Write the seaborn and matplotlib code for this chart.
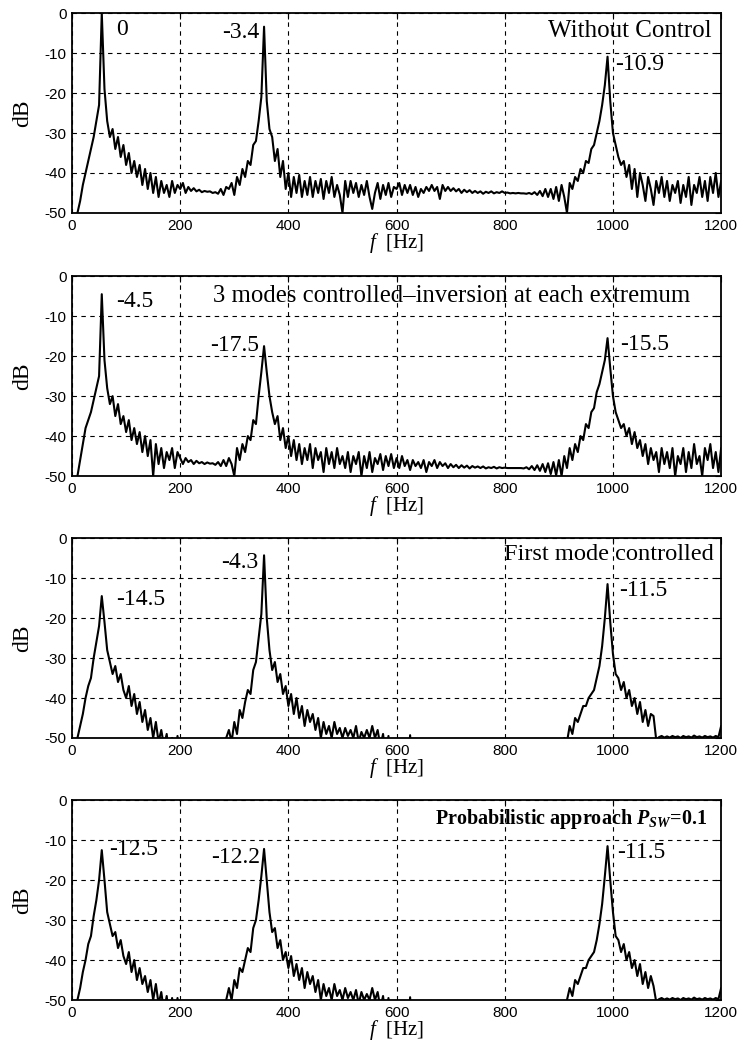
import numpy as np
import matplotlib
matplotlib.use("Agg")
import matplotlib.pyplot as plt
import seaborn as sns

# frequency grid of the spectra (Hz)
freq = np.arange(0, 1205, 5)

# spectra in dB, 5 Hz steps
db_no_control = [
    -60, -56, -50, -47, -43, -40, -37, -34, -31, -27, -23, 0, -19, -27, -31, -29, -34, -31, -36, -33,
    -38, -35, -40, -37, -41, -38, -43, -39, -44, -40, -45, -41, -46, -42, -45, -43, -46, -42, -45, -43,
    -44, -42.5, -45, -43.5, -44.5, -43.8, -44.6, -44.2, -44.8, -44.5, -44.7, -44.6, -45, -44.8, -45.2, -44, -45.5, -43.5, -44, -42.5,
    -45.5, -41, -43, -39, -41, -37, -38, -33, -32, -27, -21, -3.4, -22, -29, -31, -37, -34, -41, -37, -44,
    -40, -46, -41, -45, -40.5, -46, -42, -45.5, -41, -46, -42, -45, -41.5, -46.5, -42, -45, -41, -46, -43, -45.5,
    -50, -42, -46, -42, -45, -42.5, -46, -43, -45.5, -42, -46, -49, -45, -42.5, -46.5, -43, -45.5, -42.5, -46, -43.5,
    -44, -42.5, -45.5, -43, -45, -43, -45.5, -43.5, -46, -44, -45, -43.5, -44.5, -43, -44.5, -43.5, -46.5, -43, -44.5, -43.5,
    -44.5, -43.8, -44.6, -44, -45, -44.2, -44.8, -44.3, -45, -44.5, -45, -44.6, -45.2, -44.7, -45, -44.6, -45.1, -44.8, -45, -44.6,
    -45, -44.9, -45.1, -45, -45.1, -45, -45.1, -45.1, -45.2, -45, -45.3, -44.8, -45.5, -44.5, -45.8, -44, -46, -44, -46.5, -43.5,
    -47, -43, -46, -50, -42.5, -44, -41, -42, -39, -40, -37, -37.5, -34, -33, -30, -27, -23, -18, -10.9, -22,
    -30, -33, -36, -38, -37, -41, -38, -44, -39, -46, -40, -43, -47, -41, -44, -48, -42, -45, -41, -46,
    -42, -47, -43, -45, -42, -47.5, -43, -46, -41, -48, -43, -45, -41, -46, -42, -47, -41, -45, -40, -46, -42,
]

db_three_modes = [
    -60, -56, -50, -46, -42, -38, -36, -34, -31, -28, -25, -4.5, -21, -28, -32, -30, -35, -32, -37, -35,
    -39, -36, -41, -38, -42, -39, -44, -40, -45, -41, -50, -42, -47, -43, -48, -44, -46, -43, -48, -44,
    -45.5, -47, -45.5, -46.5, -46, -47, -46.2, -46.8, -46.5, -47, -46.6, -46.9, -46.8, -47.2, -46.5, -47.5, -46, -47.5, -45.5, -47,
    -50, -43, -46, -42, -44, -40, -41, -36, -37, -30, -24, -17.5, -24, -30, -34, -37, -35, -41, -38, -43,
    -40, -45, -41, -46, -42, -47, -43, -46, -42, -48, -43, -46, -44, -49, -43, -47, -44, -48, -43, -47,
    -45, -48, -44, -49, -45, -47, -44, -50, -45, -48, -44, -49, -45.5, -47, -44.5, -48.5, -45, -47.5, -44.5, -48,
    -45.5, -48, -45, -47.5, -46, -48.5, -46, -47.5, -46.5, -48, -46, -49, -46.5, -47.5, -46, -48, -46.5, -47.5, -46.8, -48,
    -47, -47.8, -47.2, -48, -47.3, -47.9, -47.4, -48.1, -47.5, -47.9, -47.6, -48, -47.6, -48.1, -47.8, -48, -47.7, -48.1, -47.8, -48,
    -47.9, -48, -48, -48, -48, -48, -48, -48.1, -47.8, -48.3, -47.5, -48.5, -47.3, -48.7, -47, -49, -46.8, -49.5, -46.5, -49.8,
    -46, -50, -45, -48, -43, -46, -42, -44, -40, -41, -37, -38, -34, -33, -29, -27, -24, -21, -15.5, -23,
    -30, -34, -36, -38, -37, -40, -38, -42, -39, -43, -41, -45, -42, -47, -43, -46, -44, -49, -43, -47,
    -44, -48, -43, -50, -45, -47, -43, -49, -44, -48, -42, -47, -45, -50, -43, -46, -42, -48, -44, -49, -43,
]

db_first_mode = [
    -60, -56, -50, -47, -44, -40, -37, -35, -30, -26, -22, -14.5, -21, -28, -31, -34, -32, -36, -34, -38,
    -40, -37, -42, -39, -44, -41, -46, -43, -48, -45, -50, -46, -51, -48, -52, -49, -55, -50, -56, -49.5,
    -55, -58, -60, -60, -60, -60, -60, -60, -60, -60, -60, -60, -60, -60, -60, -60, -56, -50, -48, -51,
    -46, -49, -43, -45, -41, -38, -39, -33, -31, -25, -19, -4.3, -20, -28, -33, -31, -36, -34, -39, -37,
    -42, -39, -44, -40, -45, -42, -47, -43, -46, -44, -48, -45, -50, -46, -49, -47, -50, -46, -49, -47.5,
    -50, -47.5, -49.5, -48, -50, -47, -51, -48.5, -50, -48, -50, -47, -50, -48, -52, -49, -55, -49.5, -60, -60,
    -60, -60, -58, -60, -60, -49.3, -60, -60, -60, -60, -60, -60, -60, -60, -60, -60, -60, -60, -60, -60,
    -60, -60, -60, -60, -60, -60, -60, -60, -60, -60, -60, -60, -60, -60, -60, -60, -60, -60, -60, -60,
    -60, -60, -60, -60, -60, -60, -60, -60, -60, -60, -60, -60, -60, -60, -60, -60, -60, -60, -60, -60,
    -60, -55, -50, -51, -47, -49, -45, -46, -44, -42, -42, -40, -39, -38, -35, -32, -27, -20, -11.5, -21,
    -29, -34, -35, -38, -36, -40, -38, -42, -40, -44, -41, -46, -43, -47, -44, -44.5, -50.5, -49.8, -49.5, -49.9,
    -49.6, -49.9, -49.5, -49.8, -49.6, -50, -49.5, -49.8, -49.6, -49.9, -49.4, -49.8, -49.6, -49.9, -49.5, -49.8, -49.6, -49.9, -49.5, -49.8, -47,
]

db_probabilistic = [
    -60, -56, -50, -47, -43, -40, -36, -34, -29, -25, -20, -12.5, -20, -28, -31, -34, -33, -37, -35, -39,
    -41, -38, -43, -40, -45, -42, -46, -44, -48, -45, -50, -46, -51, -48, -53, -49, -55, -49.5, -56, -49.5,
    -56, -60, -60, -60, -60, -60, -60, -60, -60, -60, -60, -60, -60, -60, -60, -60, -60, -50, -47, -50,
    -45, -47, -42, -43, -40, -37, -38, -32, -30, -25, -19, -12.2, -20, -28, -33, -32, -37, -35, -40, -38,
    -42, -39, -44, -41, -45, -42, -47, -43, -46, -44, -48, -45, -50, -46, -49, -47, -50, -46, -49, -47.5,
    -50, -47, -49.5, -48, -50, -47.5, -51, -48, -50, -48.5, -50, -47, -50, -48, -52, -49, -55, -49.5, -60, -60,
    -60, -60, -58, -60, -60, -49.3, -60, -60, -60, -60, -60, -60, -60, -60, -60, -60, -60, -60, -60, -60,
    -60, -60, -60, -60, -60, -60, -60, -60, -60, -60, -60, -60, -60, -60, -60, -60, -60, -60, -60, -60,
    -60, -60, -60, -60, -60, -60, -60, -60, -60, -60, -60, -60, -60, -60, -60, -60, -60, -60, -60, -60,
    -60, -60, -51, -50, -47, -49, -45, -46, -44, -42, -42, -40, -39, -38, -35, -31, -26, -19, -11.5, -20,
    -28, -34, -35, -38, -36, -40, -38, -42, -40, -44, -41, -46, -43, -47, -44, -46.5, -50.5, -49.8, -49.5, -49.9,
    -49.6, -49.9, -49.5, -49.8, -49.6, -50, -49.5, -49.8, -49.6, -49.9, -49.4, -49.8, -49.6, -49.9, -49.5, -49.8, -49.6, -49.9, -49.5, -49.8, -47,
]

panel_titles = [
    "Without Control",
    "3 modes controlled\u2013inversion at each extremum",
    "First mode controlled",
    r"Probabilistic approach $\mathbf{P}_{\mathbf{SW}}$=0.1",
]
peak_labels = [
    ["0", "-3.4", "-10.9"],
    ["-4.5", "-17.5", "-15.5"],
    ["-14.5", "-4.3", "-11.5"],
    ["-12.5", "-12.2", "-11.5"],
]
xticks = [0, 200, 400, 600, 800, 1000, 1200]
yticks = [0, -10, -20, -30, -40, -50]

sns.set_style("white")
plt.rcParams["font.family"] = ["Liberation Serif", "DejaVu Serif"]
plt.rcParams["axes.unicode_minus"] = False
plt.rcParams["text.color"] = "black"
plt.rcParams["axes.labelcolor"] = "black"
plt.rcParams["xtick.color"] = "black"
plt.rcParams["ytick.color"] = "black"
plt.rcParams["mathtext.fontset"] = "custom"
plt.rcParams["mathtext.rm"] = "Liberation Serif"
plt.rcParams["mathtext.it"] = "Liberation Serif:italic"
plt.rcParams["mathtext.bf"] = "Liberation Serif:italic:bold"

fig = plt.figure(figsize=(7.41, 10.49), dpi=100)
bottoms = [0.797, 0.5462, 0.2965, 0.0467]

spectra = [db_no_control, db_three_modes, db_first_mode, db_probabilistic]

# (x, y, ha) for the three peak numbers, and the title position/size
label_pos = [
    [(81, -4.0, "left"), (347, -4.8, "right"), (1004, -12.8, "left")],
    [(81, -6.3, "left"), (345, -17.3, "right"), (1013, -17.1, "left")],
    [(81, -15.3, "left"), (345, -6.0, "right"), (1011, -13.2, "left")],
    [(69, -12.3, "left"), (347, -14.3, "right"), (1008, -13.0, "left")],
]
title_pos = [(1183, -4.5, 18), (1143, -5.0, 17.8), (1187, -4.0, 17.6), (1174, -4.8, 14.5)]

for i, (vals, bottom) in enumerate(zip(spectra, bottoms)):
    ax = fig.add_axes([0.0972, bottom, 0.876, 0.1905])
    sns.lineplot(x=freq, y=vals, ax=ax, color="black", lw=1.5, estimator=None)
    ax.set_xlim(0, 1200)
    ax.set_ylim(-50, 0)
    ax.set_xticks(xticks)
    ax.set_yticks(yticks)
    ax.set_xticklabels([str(t) for t in xticks], family="Liberation Sans", fontsize=11)
    ax.set_yticklabels([str(t) for t in yticks], family="Liberation Sans", fontsize=11)
    ax.tick_params(direction="in", length=4, width=0.8, top=True, right=True, pad=4)
    ax.grid(True, color="black", linestyle=(0, (4, 4)), linewidth=0.8)
    for s in ax.spines.values():
        s.set_color("black")
        s.set_linewidth(1.3)
    ax.set_xlabel("$f$  [Hz]", fontsize=15, labelpad=-1)
    ax.set_ylabel("dB", fontsize=17, labelpad=8)

    for txt, (x, y, ha) in zip(peak_labels[i], label_pos[i]):
        ax.text(x, y, txt, ha=ha, va="center", fontsize=17)
    tx, ty, ts = title_pos[i]
    ax.text(tx, ty, panel_titles[i], ha="right", va="center", fontsize=ts,
            fontweight="bold" if i == 3 else "normal")

fig.savefig("out.png", dpi=100)
